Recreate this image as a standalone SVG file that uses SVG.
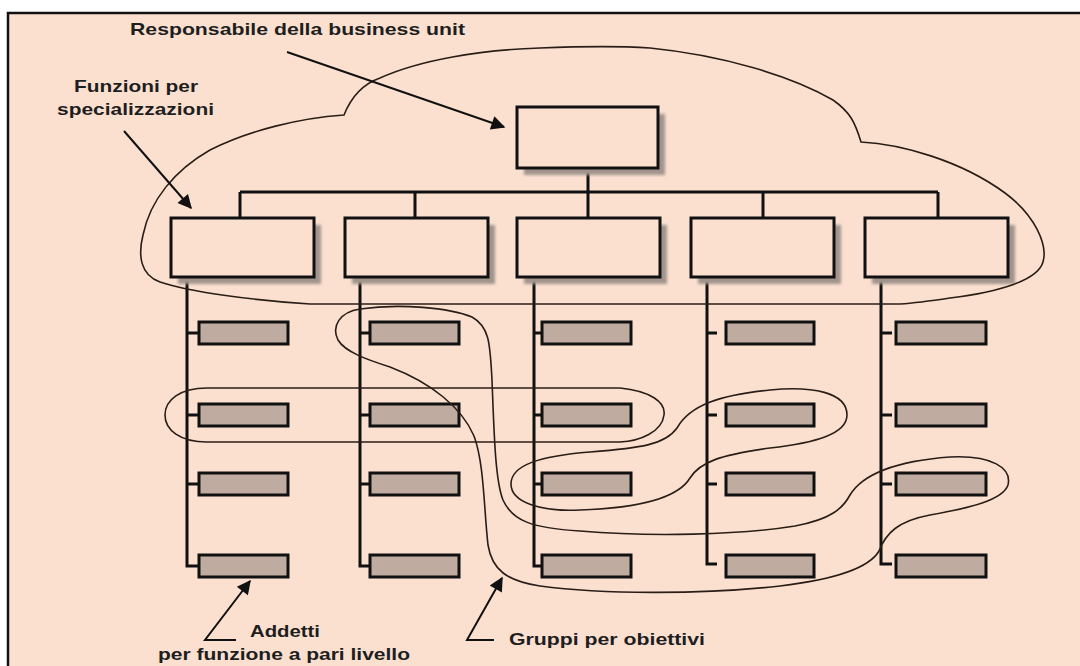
<svg xmlns="http://www.w3.org/2000/svg" width="1080" height="666" viewBox="0 0 1080 666">
<defs>
<style>
.bg{fill:#FBE0D0}
.frame{fill:none;stroke:#111;stroke-width:2.5}
.box{fill:#FBE0D0;stroke:#111;stroke-width:3}
.shadow{fill:#A2948C;filter:url(#blur)}
.small{fill:#BFAB9F;stroke:#111;stroke-width:3}
.org{fill:none;stroke:#111;stroke-width:3}
.curve{fill:none;stroke:#2a1d16;stroke-width:1.6}
.arrow{fill:none;stroke:#111;stroke-width:2;marker-end:url(#ah)}
.lbl{font-family:"Liberation Sans",Arial,sans-serif;font-weight:bold;font-size:17px;fill:#1e1e1e}
</style>
<filter id="blur" x="-10%" y="-10%" width="130%" height="130%"><feGaussianBlur stdDeviation="1.5"/></filter>
<marker id="ah" viewBox="0 0 10 10" refX="9" refY="5" markerWidth="10" markerHeight="7" markerUnits="strokeWidth" orient="auto">
<path d="M0,0 L10,5 L0,10 Z" fill="#111"/>
</marker>
</defs>
<rect x="0" y="0" width="1080" height="666" fill="#ffffff"/>
<rect class="bg" x="8" y="13" width="1072" height="653"/>
<path class="frame" d="M8,666 L8,13 L1080,13"/>

<g id="connectors">
<path class="org" d="M588,168 L588,218 M240,192 L938,192 M240,192 L240,218 M415,192 L415,218 M763,192 L763,218 M938,192 L938,218"/>
<path class="org" d="M187,277 L187,566 L199,566 M187,333 L199,333 M187,415 L199,415 M187,484 L199,484"/>
<path class="org" d="M360,277 L360,566 L370,566 M360,333 L370,333 M360,415 L370,415 M360,484 L370,484"/>
<path class="org" d="M534,277 L534,566 L542,566 M534,333 L542,333 M534,415 L542,415 M534,484 L542,484"/>
<path class="org" d="M707,277 L707,564 L717,564 M707,333 L717,333 M707,415 L717,415 M707,484 L717,484"/>
<path class="org" d="M881,277 L881,564 L892,564 M881,333 L892,333 M881,415 L892,415 M881,484 L892,484"/>
</g>

<g id="node-top">
<rect class="shadow" x="524" y="114" width="141" height="61"/>
<rect class="box" x="517" y="107" width="141" height="61"/>
</g>
<g id="node-f1"><rect class="shadow" x="178" y="225" width="143" height="59"/><rect class="box" x="171" y="218" width="143" height="59"/></g>
<g id="node-f2"><rect class="shadow" x="352" y="225" width="143" height="59"/><rect class="box" x="345" y="218" width="143" height="59"/></g>
<g id="node-f3"><rect class="shadow" x="524" y="225" width="143" height="59"/><rect class="box" x="517" y="218" width="143" height="59"/></g>
<g id="node-f4"><rect class="shadow" x="698" y="225" width="143" height="59"/><rect class="box" x="691" y="218" width="143" height="59"/></g>
<g id="node-f5"><rect class="shadow" x="872" y="225" width="143" height="59"/><rect class="box" x="865" y="218" width="143" height="59"/></g>

<g id="node-staff-c1">
<rect class="small" x="199" y="322" width="89" height="22"/>
<rect class="small" x="199" y="404" width="89" height="22"/>
<rect class="small" x="199" y="473" width="89" height="22"/>
<rect class="small" x="199" y="555" width="89" height="22"/>
</g>
<g id="node-staff-c2">
<rect class="small" x="370" y="322" width="89" height="22"/>
<rect class="small" x="370" y="404" width="89" height="22"/>
<rect class="small" x="370" y="473" width="89" height="22"/>
<rect class="small" x="370" y="555" width="89" height="22"/>
</g>
<g id="node-staff-c3">
<rect class="small" x="542" y="322" width="89" height="22"/>
<rect class="small" x="542" y="404" width="89" height="22"/>
<rect class="small" x="542" y="473" width="89" height="22"/>
<rect class="small" x="542" y="555" width="89" height="22"/>
</g>
<g id="node-staff-c4">
<rect class="small" x="726" y="322" width="88" height="22"/>
<rect class="small" x="726" y="404" width="88" height="22"/>
<rect class="small" x="726" y="473" width="88" height="22"/>
<rect class="small" x="726" y="555" width="88" height="22"/>
</g>
<g id="node-staff-c5">
<rect class="small" x="896" y="322" width="90" height="22"/>
<rect class="small" x="896" y="404" width="90" height="22"/>
<rect class="small" x="896" y="473" width="90" height="22"/>
<rect class="small" x="896" y="555" width="90" height="22"/>
</g>

<g id="groups">
<path class="curve" d="M344,115 C350,100 360,85 380,78 C420,60 480,50 540,48 C590,46 620,46 650,48 C720,55 790,75 833,100 C850,112 855,122 861,142 C900,144 960,160 1005,193 C1035,215 1048,245 1043,262 C1038,280 1000,292 950,298 C930,301 915,303 900,304 L310,304 C250,300 190,292 160,282 C140,275 138,255 143,235 C150,200 175,170 210,150 C250,130 300,118 344,115 Z"/>
<path class="curve" d="M207,388 L620,388 C650,391 666,402 664,415 C662,432 640,441 620,442 L207,442 C180,442 165,430 165,415 C165,400 180,388 207,388 Z"/>
<path class="curve" d="M360,309 C400,303 450,308 472,317 C490,327 490,345 492,380 C494,430 495,480 503,500 C512,520 530,528 580,531 C650,537 740,535 795,526 C832,519 843,508 850,495 C862,475 895,461 950,457 C992,455 1012,468 1008,485 C1003,500 970,508 930,515 C898,521 886,533 879,551 C868,570 830,580 780,586 C700,595 600,594 540,586 C507,581 492,570 488,545 C484,510 484,462 474,436 C462,408 432,383 390,367 C368,360 345,352 338,340 C331,326 340,312 360,309 Z"/>
<path class="curve" d="M511,484 C511,465 540,456 590,452 C640,448 665,445 677,428 C690,405 720,395 770,390 C812,386 847,392 847,415 C847,434 815,443 770,448 C720,455 700,462 690,478 C678,498 640,508 580,510 C540,512 511,502 511,484 Z"/>
</g>

<g id="arrows">
<line class="arrow" x1="287" y1="52" x2="504" y2="127"/>
<line class="arrow" x1="124" y1="131" x2="191" y2="208"/>
<polyline class="arrow" points="236,640 205,640 250,581"/>
<polyline class="arrow" points="494,640 467,640 502,578"/>
</g>

<g id="labels">
<text class="lbl" x="130" y="35" textLength="335" lengthAdjust="spacingAndGlyphs">Responsabile della business unit</text>
<text class="lbl" x="74" y="92" textLength="124" lengthAdjust="spacingAndGlyphs">Funzioni per</text>
<text class="lbl" x="57" y="115" textLength="157" lengthAdjust="spacingAndGlyphs">specializzazioni</text>
<text class="lbl" x="250" y="637" textLength="70" lengthAdjust="spacingAndGlyphs">Addetti</text>
<text class="lbl" x="158" y="660" textLength="252" lengthAdjust="spacingAndGlyphs">per funzione a pari livello</text>
<text class="lbl" x="509" y="645" textLength="196" lengthAdjust="spacingAndGlyphs">Gruppi per obiettivi</text>
</g>
</svg>
